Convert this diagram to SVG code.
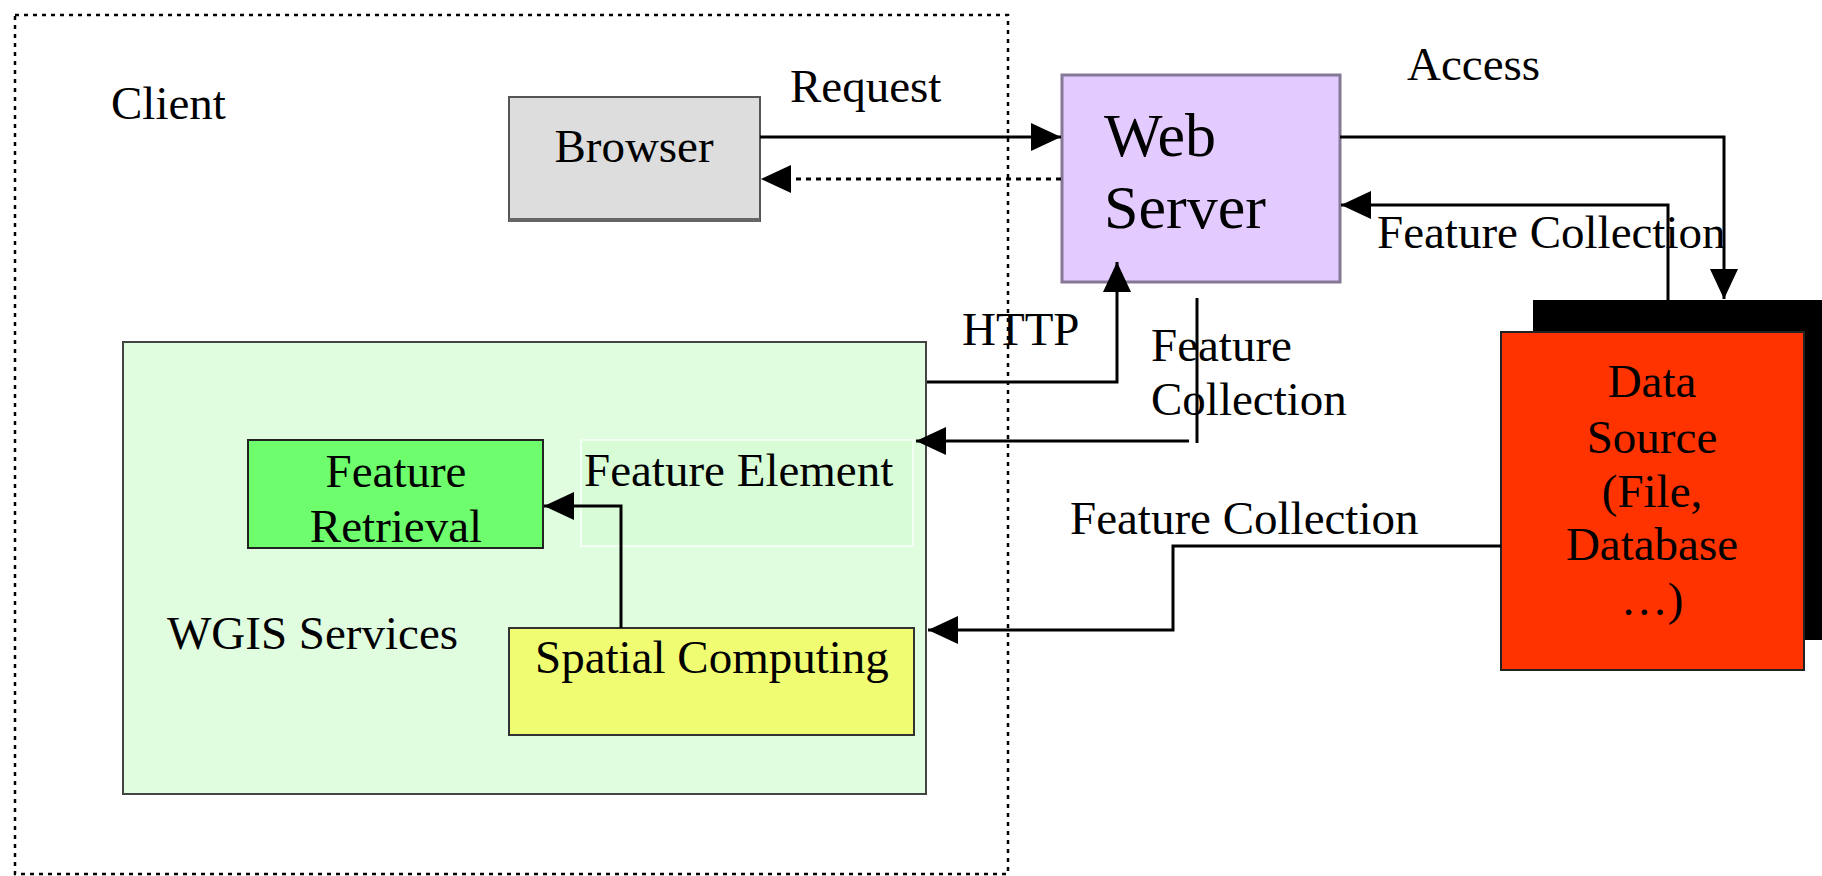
<svg xmlns="http://www.w3.org/2000/svg" width="1822" height="876" viewBox="0 0 1822 876">
<style>
text{font-family:"Liberation Serif","Times New Roman",serif;font-size:47px;fill:#000}
.big{font-size:62px}
.c{text-anchor:middle}
.con{fill:none;stroke:#000;stroke-width:3}
</style>
<defs>
<marker id="ah" markerUnits="userSpaceOnUse" markerWidth="30" markerHeight="28" refX="30" refY="14" orient="auto" viewBox="0 0 30 28">
<path d="M0,0 L30,14 L0,28 Z" fill="#000"/>
</marker>
</defs>
<rect width="1822" height="876" fill="#fff"/>
<g id="client">
<rect x="15" y="15" width="993" height="859" fill="none" stroke="#000" stroke-width="2.5" stroke-dasharray="4 5"/>
<text x="111" y="119">Client</text>
</g>
<g id="wgis">
<rect x="123" y="342" width="803" height="452" fill="#e1fde0" stroke="#444" stroke-width="2"/>
<text x="167" y="649">WGIS Services</text>
</g>
<g id="feature-element">
<rect x="581" y="440" width="332" height="106" fill="#d8fdd6" stroke="#f2fff2" stroke-width="2"/>
<text x="584" y="486">Feature Element</text>
</g>
<g id="feature-retrieval">
<rect x="248" y="440" width="295" height="108" fill="#6dfd6d" stroke="#222" stroke-width="2"/>
<text class="c" x="396" y="487">Feature</text>
<text class="c" x="396" y="542">Retrieval</text>
</g>
<g id="spatial-computing">
<rect x="509" y="628" width="405" height="107" fill="#f0fd72" stroke="#333" stroke-width="2"/>
<text x="535" y="673">Spatial Computing</text>
</g>
<g id="browser">
<rect x="509" y="97" width="251" height="124" fill="#dddddd" stroke="#555" stroke-width="2"/>
<line x1="509" y1="220" x2="760" y2="220" stroke="#666" stroke-width="4"/>
<text class="c" x="634" y="162">Browser</text>
</g>
<g id="web-server">
<rect x="1062" y="75" width="278" height="207" fill="#e3cbff" stroke="#847896" stroke-width="3"/>
<text class="big" x="1104" y="156">Web</text>
<text class="big" x="1104" y="228">Server</text>
</g>
<g id="data-source">
<rect x="1533" y="300" width="289" height="340" fill="#000"/>
<rect x="1501" y="332" width="303" height="338" fill="#ff3300" stroke="#222" stroke-width="2"/>
<text class="c" x="1652" y="397">Data</text>
<text class="c" x="1652" y="453">Source</text>
<text class="c" x="1652" y="507">(File,</text>
<text class="c" x="1652" y="560">Database</text>
<text class="c" x="1652" y="615">…)</text>
</g>
<g id="connectors">
<path class="con" d="M760,137 H1061" marker-end="url(#ah)"/>
<path class="con" d="M1061,179 H761" stroke-dasharray="5 5" marker-end="url(#ah)"/>
<path class="con" d="M1340,137 H1724 V299" marker-end="url(#ah)"/>
<path class="con" d="M1668,300 V205 H1341" marker-end="url(#ah)"/>
<path class="con" d="M927,382 H1117 V262" marker-end="url(#ah)"/>
<path class="con" d="M1197,298 V443"/>
<path class="con" d="M1189,441 H916" marker-end="url(#ah)"/>
<path class="con" d="M1501,546 H1173 V630 H928" marker-end="url(#ah)"/>
<path class="con" d="M621,628 V506 H544" marker-end="url(#ah)"/>
<text x="790" y="102">Request</text>
<text x="1407" y="80">Access</text>
<text x="1377" y="248">Feature Collection</text>
<text x="962" y="345">HTTP</text>
<text x="1151" y="361">Feature</text>
<text x="1151" y="415">Collection</text>
<text x="1070" y="534">Feature Collection</text>
</g>
</svg>
